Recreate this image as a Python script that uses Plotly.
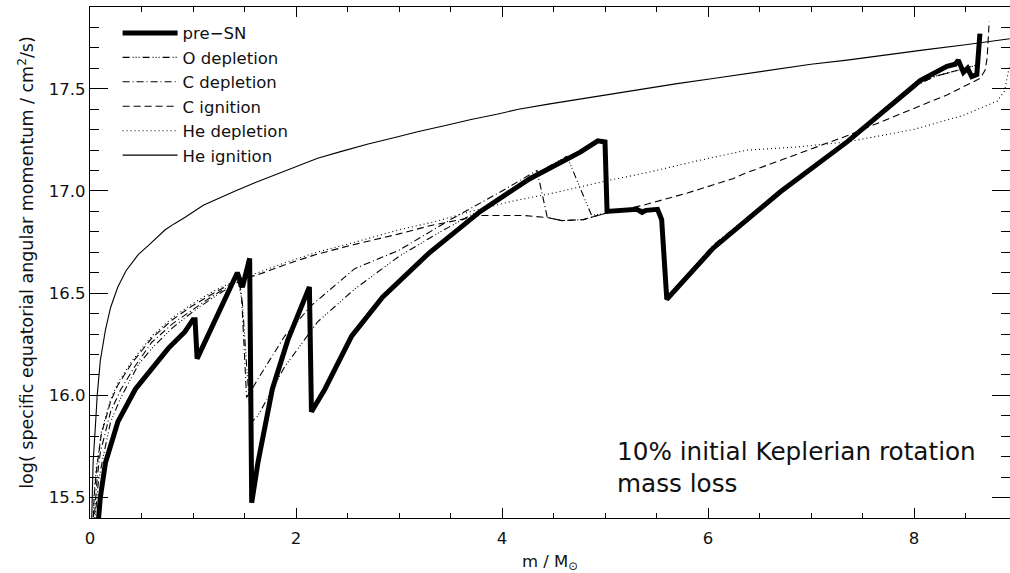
import plotly.graph_objects as go

# ---------------- data ----------------
he_ign_x = [0.012, 0.02, 0.03, 0.05, 0.07, 0.10, 0.15, 0.20, 0.27, 0.35, 0.47, 0.56, 0.65, 0.73, 0.82, 0.92,
            1.1, 1.25, 1.41, 1.6, 1.8, 2.0, 2.21, 2.45, 2.7, 2.95, 3.18, 3.45, 3.7, 3.95, 4.16, 4.45, 4.76,
            5.1, 5.4, 5.7, 6.05, 6.4, 6.7, 7.0, 7.35, 7.7, 8.1, 8.5, 8.93]
he_ign_y = [15.30, 15.45, 15.67, 15.83, 16.00, 16.17, 16.32, 16.43, 16.53, 16.61, 16.69, 16.73, 16.77, 16.81, 16.84, 16.87,
            16.93, 16.965, 17.00, 17.04, 17.08, 17.12, 17.16, 17.195, 17.23, 17.26, 17.29, 17.32, 17.35, 17.375, 17.40, 17.425, 17.45,
            17.475, 17.50, 17.525, 17.55, 17.575, 17.60, 17.62, 17.64, 17.665, 17.69, 17.715, 17.745]

he_dep_x = [0.025, 0.04, 0.06, 0.11, 0.2, 0.27, 0.41, 0.6, 0.8, 1.0, 1.2, 1.44, 1.63, 1.9, 2.2, 2.54,
            3.0, 3.35, 3.7, 4.1, 4.5, 4.76, 5.02, 5.41, 5.92, 6.38, 6.86, 7.35, 7.99, 8.48, 8.81, 8.88, 8.91, 8.93]
he_dep_y = [15.35, 15.52, 15.64, 15.82, 15.98, 16.06, 16.17, 16.29, 16.38, 16.45, 16.51, 16.57, 16.60, 16.65, 16.70, 16.745,
            16.81, 16.85, 16.90, 16.95, 16.99, 17.02, 17.05, 17.09, 17.15, 17.20, 17.215, 17.24, 17.30, 17.37, 17.44, 17.49, 17.57, 17.62]

c_ign_x = [0.028, 0.04, 0.06, 0.11, 0.2, 0.27, 0.41, 0.6, 0.8, 1.0, 1.2, 1.44, 1.63, 1.9, 2.2, 2.54,
           3.0, 3.3, 3.8, 4.21, 4.44, 4.58, 4.79, 5.0, 5.37, 5.8, 6.24, 6.38, 7.35, 7.99, 8.32, 8.64, 8.69, 8.71, 8.73]
c_ign_y = [15.35, 15.50, 15.62, 15.81, 15.97, 16.05, 16.16, 16.28, 16.37, 16.44, 16.50, 16.565, 16.59, 16.64, 16.69, 16.735,
           16.79, 16.83, 16.88, 16.88, 16.87, 16.855, 16.86, 16.89, 16.93, 16.99, 17.06, 17.09, 17.27, 17.40, 17.47, 17.55, 17.59, 17.65, 17.83]

c_dep_x = [0.035, 0.05, 0.07, 0.1, 0.2, 0.3, 0.44, 0.6, 0.8, 1.0, 1.2, 1.44, 1.47, 1.50, 1.52, 1.56, 1.63, 1.89,
           2.15, 2.57, 3.0, 3.5, 4.0, 4.34, 4.44, 4.58, 4.79, 5.0, 5.02, 5.31, 5.51, 5.55, 5.61, 6.05, 6.70,
           7.35, 7.99, 8.2, 8.5, 8.64]
c_dep_y = [15.35, 15.48, 15.60, 15.72, 15.92, 16.03, 16.145, 16.26, 16.35, 16.42, 16.49, 16.56, 16.50, 16.20, 15.99, 16.02, 16.08, 16.29,
           16.44, 16.62, 16.71, 16.86, 17.00, 17.10, 16.87, 16.855, 16.86, 16.89, 16.90, 16.91, 16.91, 16.86, 16.48, 16.735, 17.00,
           17.24, 17.51, 17.56, 17.60, 17.62]

o_dep_x = [0.04, 0.06, 0.08, 0.12, 0.2, 0.3, 0.47, 0.6, 0.8, 1.0, 1.2, 1.44, 1.48, 1.52, 1.55, 1.57, 1.63, 1.89,
           2.21, 2.57, 3.0, 3.4, 3.8, 4.3, 4.63, 4.87, 5.0, 5.02, 5.31, 5.51, 5.55, 5.61, 6.05, 6.70,
           7.35, 7.99, 8.2, 8.5, 8.64]
o_dep_y = [15.35, 15.47, 15.57, 15.68, 15.87, 15.99, 16.15, 16.23, 16.33, 16.41, 16.48, 16.555, 16.45, 16.15, 15.95, 15.87, 15.90, 16.14,
           16.36, 16.52, 16.68, 16.80, 16.91, 17.075, 17.17, 16.88, 16.89, 16.90, 16.91, 16.91, 16.86, 16.48, 16.73, 17.00,
           17.24, 17.51, 17.56, 17.60, 17.62]

presn_x = [0.075, 0.10, 0.15, 0.27, 0.44, 0.60, 0.76, 0.92, 1.00, 1.02, 1.04, 1.43, 1.48, 1.55, 1.57, 1.63, 1.77,
           1.92, 2.13, 2.15, 2.28, 2.54, 2.84, 3.30, 3.79, 4.27, 4.76, 4.93, 5.00, 5.02, 5.31, 5.36, 5.40,
           5.51, 5.55, 5.60, 6.05, 6.70, 7.35, 7.99, 8.06, 8.32, 8.40, 8.43, 8.48, 8.52, 8.56, 8.61, 8.62, 8.64]
presn_y = [15.35, 15.50, 15.67, 15.87, 16.03, 16.13, 16.23, 16.31, 16.37, 16.37, 16.18, 16.60, 16.53, 16.67, 15.475, 15.67, 16.03,
           16.27, 16.53, 15.92, 16.03, 16.29, 16.48, 16.70, 16.90, 17.06, 17.19, 17.245, 17.24, 16.90, 16.91, 16.895, 16.905,
           16.91, 16.86, 16.47, 16.72, 16.995, 17.24, 17.51, 17.54, 17.61, 17.62, 17.64, 17.58, 17.60, 17.56, 17.57, 17.68, 17.77]

x_ticks = [0, 2, 4, 6, 8]
y_ticks = [15.5, 16.0, 16.5, 17.0, 17.5]

# ---------------- figure ----------------
FONT = "DejaVu Sans"
INK = "black"
TXT = "#111"

fig = go.Figure()
series = [
    ("He ignition", he_ign_x, he_ign_y, 1.1, "solid"),
    ("He depletion", he_dep_x, he_dep_y, 1.1, "1px,3px"),
    ("C ignition", c_ign_x, c_ign_y, 1.1, "7px,4px"),
    ("C depletion", c_dep_x, c_dep_y, 1.1, "7px,3px,1px,3px"),
    ("O depletion", o_dep_x, o_dep_y, 1.1, "7px,3px,1px,2px,1px,2px,1px,3px"),
    ("pre\u2212SN", presn_x, presn_y, 5, "solid"),
]
for name, xs, ys, w, dash in series:
    fig.add_trace(go.Scatter(x=xs, y=ys, mode="lines", name=name,
                             line=dict(color=INK, width=w, dash=dash),
                             hoverinfo="skip"))

fig.add_annotation(text="10% initial Keplerian rotation<br>mass loss",
                   xref="paper", yref="paper", x=0.571, y=0.098,
                   xanchor="left", yanchor="middle", align="left", showarrow=False,
                   font=dict(family=FONT, size=24.7, color=TXT))

axis_common = dict(showline=True, linecolor=INK, linewidth=1.3, mirror="ticks",
                   ticks="inside", tickcolor=INK, tickwidth=1.1,
                   showgrid=False, zeroline=False, automargin=False,
                   tickfont=dict(family=FONT, size=16.5, color=TXT))

fig.update_xaxes(range=[0, 8.932], tickvals=x_ticks, ticklen=10,
                 minor=dict(dtick=0.5, tick0=0, ticklen=5, ticks="inside", tickcolor=INK, tickwidth=1.1, showgrid=False),
                 ticklabelstandoff=5,
                 title=dict(text="m / M<sub>\u2299</sub>", standoff=9,
                            font=dict(family=FONT, size=16.5, color=TXT)),
                 **axis_common)
fig.update_yaxes(range=[15.40, 17.90], tickvals=y_ticks, tickformat=".1f", ticklen=18,
                 minor=dict(dtick=0.1, tick0=15.5, ticklen=9, ticks="inside", tickcolor=INK, tickwidth=1.1, showgrid=False),
                 title=dict(text="log( specific equatorial angular momentum / cm<sup>2</sup>/s)", standoff=10,
                            font=dict(family=FONT, size=17.5, color=TXT)),
                 **axis_common)

fig.update_layout(width=1010, height=573,
                  margin=dict(l=90, r=0, t=7, b=55),
                  plot_bgcolor="white", paper_bgcolor="white",
                  font=dict(family=FONT, color=TXT),
                  showlegend=True,
                  legend=dict(x=0.03, y=0.983, xanchor="left", yanchor="top",
                              bgcolor="rgba(0,0,0,0)", traceorder="reversed",
                              tracegroupgap=0, itemwidth=55,
                              font=dict(family=FONT, size=16.5, color=TXT)))

fig.write_html("out.html", config={"displayModeBar": False},
               post_script="document.body.style.margin='0px';document.body.style.overflow='hidden';")
